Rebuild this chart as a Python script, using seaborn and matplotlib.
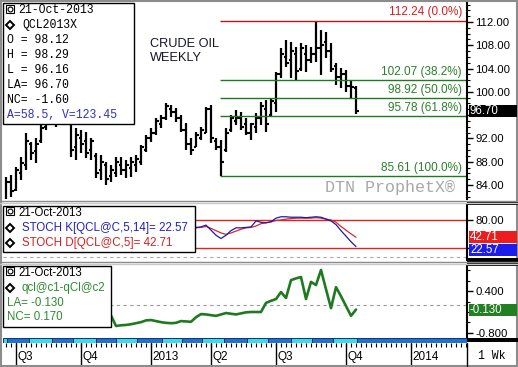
import numpy as np
import pandas as pd
import matplotlib
matplotlib.use("Agg")
import matplotlib.pyplot as plt
import seaborn as sns
from matplotlib.patches import Rectangle
from matplotlib.ticker import MultipleLocator, FixedLocator

# weekly bars of QCL2013X, first bar week of 18-Jun-2012
start = pd.Timestamp("2012-06-18")
opens = [81.5, 84.5, 83.2, 86.0, 87.5, 91.0, 89.8, 91.5, 94.0, 95.5,
         96.0, 95.2, 96.5, 94.5, 90.5, 92.0, 91.5, 90.0, 89.0, 86.5,
         87.5, 85.5, 86.0, 87.5, 86.5, 87.0, 87.5, 88.0, 90.0, 92.0,
         93.0, 94.5, 95.5, 97.0, 96.5, 95.5, 93.5, 91.0, 90.5, 92.0,
         93.0, 97.0, 91.5, 90.5, 90.0, 93.5, 95.0, 95.5, 94.5, 93.0,
         94.0, 95.5, 97.0, 96.0, 98.0, 103.0, 106.0, 105.5, 106.5, 104.0,
         106.5, 105.5, 106.5, 107.5, 108.5, 107.0, 104.5, 102.5, 103.0, 101.0,
         100.6]
highs = [85.4, 85.7, 87.1, 88.8, 92.9, 91.4, 92.0, 94.3, 96.0, 97.5,
         97.0, 98.0, 97.0, 95.5, 93.8, 93.4, 93.1, 92.1, 89.5, 89.1,
         87.9, 87.4, 88.8, 88.8, 88.3, 88.8, 89.1, 90.9, 92.6, 93.8,
         95.5, 96.0, 98.1, 97.7, 97.2, 96.0, 94.6, 92.1, 93.1, 94.0,
         97.4, 97.7, 92.0, 91.8, 93.8, 96.0, 96.9, 96.5, 95.5, 94.6,
         96.4, 98.3, 98.6, 99.0, 103.4, 107.5, 108.9, 108.6, 107.7, 108.4,
         108.0, 107.7, 112.24, 110.6, 110.3, 108.4, 105.0, 104.1, 103.8, 102.0,
         101.0]
lows = [80.5, 82.0, 83.0, 84.9, 86.6, 88.3, 87.8, 91.2, 93.4, 94.5,
        94.0, 95.0, 94.6, 88.8, 88.3, 89.5, 88.6, 88.3, 85.2, 84.9,
        84.0, 84.5, 85.4, 85.7, 85.2, 85.4, 86.2, 87.4, 89.7, 91.4,
        92.6, 93.8, 95.2, 95.6, 94.8, 93.1, 90.0, 89.1, 90.5, 91.7,
        92.9, 91.2, 90.0, 85.61, 89.7, 93.1, 94.3, 93.4, 92.6, 91.7,
        92.9, 94.3, 93.1, 95.8, 96.5, 102.4, 104.3, 102.4, 102.0, 103.5,
        103.4, 105.0, 105.1, 102.9, 105.8, 103.4, 101.2, 100.7, 100.0, 99.0,
        96.16]
closes = [84.5, 83.0, 86.5, 87.8, 91.5, 89.5, 91.0, 93.8, 95.5, 96.5,
          95.0, 96.8, 95.0, 90.0, 92.5, 91.0, 89.5, 91.5, 86.0, 88.0,
          85.0, 86.5, 88.0, 86.5, 87.5, 88.0, 88.5, 90.5, 92.0, 93.0,
          95.0, 95.5, 97.5, 96.5, 95.5, 93.5, 91.0, 90.0, 92.5, 93.5,
          97.0, 92.0, 90.5, 88.0, 93.0, 95.5, 95.5, 94.0, 93.0, 94.5,
          95.5, 97.5, 94.5, 98.5, 103.0, 106.5, 105.0, 107.0, 103.5, 107.5,
          105.5, 106.5, 107.5, 108.0, 107.0, 104.0, 102.5, 103.0, 101.0, 100.8,
          96.70]

# stochastics, visible part only (from week 37)
stoch_first = 37
stoch_k = [63, 64, 65, 69, 58, 47, 40, 47, 57, 63, 63, 64, 65, 78, 75, 74, 76,
           84, 87, 87, 86, 86, 86, 85, 86, 87, 86, 82, 78, 70, 57, 45, 33, 22.57]
stoch_d = [63, 63, 64, 66, 62, 57, 52, 49, 52, 56, 60, 63, 64, 67, 72, 74, 76,
           79, 80, 82, 83, 84, 84, 84, 84, 85, 84, 82, 80, 75, 66, 58, 50, 42.71]

# spread qcl@c1-qCl@c2, visible part only (from week 21)
spread_first = 21
spread = [-0.30, -0.60, -0.58, -0.57, -0.55, -0.52, -0.49, -0.44, -0.43, -0.46,
          -0.49, -0.51, -0.52, -0.51, -0.46, -0.47, -0.48, -0.35, -0.26, -0.27,
          -0.29, -0.31, -0.27, -0.23, -0.25, -0.27, -0.24, -0.21, -0.20, -0.20,
          -0.20, 0.06, 0.12, 0.17, 0.37, 0.20, 0.71, 0.76, 0.80, 0.17,
          0.66, 0.57, 1.00, 0.45, -0.09, 0.51, 0.25, -0.03, -0.31, -0.13]

fib_levels = [112.24, 102.07, 98.92, 95.78, 85.61]
fib_labels = ["112.24 (0.0%)", "102.07 (38.2%)", "98.92 (50.0%)",
              "95.78 (61.8%)", "85.61 (100.0%)"]
fib_from = 43  # week of the 85.61 low

roll_dates = ["2012-06-20", "2012-07-20", "2012-08-21", "2012-09-20", "2012-10-22",
              "2012-11-19", "2012-12-19", "2013-01-22", "2013-02-20", "2013-03-20",
              "2013-04-19", "2013-05-21", "2013-06-20", "2013-07-22", "2013-08-20",
              "2013-09-19", "2013-10-22"]
quarter_labels = ["Q3", "Q4", "2013", "Q2", "Q3", "Q4", "2014"]
quarter_starts = ["2012-07-01", "2012-10-01", "2013-01-01", "2013-04-01",
                  "2013-07-01", "2013-10-01", "2014-01-01"]

legend_main = ["O = 98.12", "H = 98.29", "L = 96.16", "LA= 96.70", "NC= -1.60"]

price_ticks = np.arange(84, 113, 4)
stoch_ticks = [20, 80]
spread_ticks = [-0.8, 0.4]

RED = "#d42020"
GREEN = "#2a7f2a"
BLUE = "#2222b8"
MONO = ["Liberation Mono", "DejaVu Sans Mono"]

sns.set_theme(style="white")
plt.rcParams['font.family'] = ['Liberation Sans', 'DejaVu Sans']

W, H = 518, 367
fig = plt.figure(figsize=(W / 100, H / 100), dpi=100)


def px_axes(l, t, r, b):
    return fig.add_axes([l / W, 1 - b / H, (r - l) / W, (b - t) / H])


def week_pos(d):
    return (pd.Timestamp(d) - start).days / 7


def right_labels(a, ticks, fmt, covered, span):
    # tick labels hidden under a value tag are left blank
    a.yaxis.set_major_locator(FixedLocator(ticks))
    a.set_yticklabels([("" if min(abs(t - c) for c in covered) < span else fmt.format(t))
                       for t in ticks])


n = len(closes)
x = np.arange(n)
xlim = (-0.6, 92.2)

# ---------------- price panel
ax = px_axes(3, 3, 467, 199)
ax.vlines(x, lows, highs, color="black", lw=1.6)
ax.hlines(opens, x - 0.5, x, color="black", lw=1.5)
ax.hlines(closes, x, x + 0.5, color="black", lw=1.5)
ax.hlines(fib_levels, fib_from - 0.3, xlim[1],
          colors=["#cc1111"] + ["#1f7a1f"] * 4, lw=1)
for lev, lab in zip(fib_levels, fib_labels):
    ax.annotate(lab, xy=(0.989, lev), xycoords=("axes fraction", "data"),
                xytext=(0, 1.5), textcoords="offset points", ha="right",
                va="bottom", fontsize=8.5,
                color=RED if lev == max(fib_levels) else GREEN)
ax.set_xlim(*xlim)
ax.set_ylim(81.59, 115.26)
ax.text(0.317, 0.82, "CRUDE OIL\nWEEKLY", transform=ax.transAxes, fontsize=9.2,
        va="top", ha="left", color="#15152a", linespacing=1.2)
ax.text(0.974, 0.036, "DTN ProphetX\u00ae", transform=ax.transAxes, fontsize=12,
        family=MONO, color="#a8a8a8", ha="right", va="baseline")
ax.yaxis.tick_right()
right_labels(ax, price_ticks, "{:.2f}", [closes[-1]], 1.5)
ax.yaxis.set_minor_locator(MultipleLocator(1))

# ---------------- stochastics panel
ax_s = px_axes(3, 204, 467, 260)
xs = np.arange(stoch_first, stoch_first + len(stoch_k))
ax_s.axhline(80, color="#dd2222", lw=1)
ax_s.axhline(20, color="#dd2222", lw=1)
ax_s.axhline(0, color="#aaaaaa", lw=0.8, ls=(0, (3, 3)))
sns.lineplot(x=xs, y=stoch_d, ax=ax_s, color="#d42a2a", lw=0.9, legend=False)
sns.lineplot(x=xs, y=stoch_k, ax=ax_s, color="#1c1ca8", lw=0.9, legend=False)
ax_s.set_xlim(*xlim)
ax_s.set_ylim(-6.5, 114.6)
ax_s.yaxis.tick_right()
right_labels(ax_s, stoch_ticks, "{:.2f}", [stoch_k[-1], stoch_d[-1]], 12)

# ---------------- spread panel
ax_p = px_axes(3, 265, 467, 338)
xp = np.arange(spread_first, spread_first + len(spread))
ax_p.axhline(0, color="#999999", lw=0.8, ls=(0, (3, 3)))
sns.lineplot(x=xp, y=spread, ax=ax_p, color="#1f7a1f", lw=1.9, legend=False)
ax_p.set_xlim(*xlim)
ax_p.set_ylim(-0.943, 1.143)
ax_p.yaxis.tick_right()
right_labels(ax_p, spread_ticks, "{:.3f}", [spread[-1]], 0.2)
ax_p.yaxis.set_minor_locator(FixedLocator(np.arange(-0.8, 1.1, 0.3)))

for a in (ax, ax_s, ax_p):
    a.set_xticks([])
    for side in ("left", "top", "bottom"):
        a.spines[side].set_visible(False)
    a.spines["right"].set_color("black")
    a.spines["right"].set_linewidth(1.5)
    a.tick_params(axis="y", which="major", direction="out", length=4, width=1,
                  colors="black", labelsize=8.2, pad=2, right=True, left=False)
    a.tick_params(axis="y", which="minor", direction="out", length=2, width=0.8,
                  color="black", right=True, left=False)
    a.set_xlabel("")
    a.set_ylabel("")

# ---------------- contract strip
ax_r = px_axes(3, 338, 467, 343)
rolls = [week_pos(d) for d in roll_dates]
for k in range(len(rolls) - 1):
    col = "#38dcec" if (len(rolls) - 2 - k) % 2 == 0 else "#1d72d4"
    ax_r.add_patch(Rectangle((rolls[k], 0), rolls[k + 1] - rolls[k], 1,
                             fc=col, ec="#14306a", lw=0.7))
ax_r.add_patch(Rectangle((xlim[0], 0), rolls[0] - xlim[0], 1, fc="#38dcec",
                         ec="#14306a", lw=0.7))
ax_r.add_patch(Rectangle((rolls[-1], 0), xlim[1] - rolls[-1], 1, fc="#1d72d4",
                         ec="#14306a", lw=0.7))
ax_r.set_xlim(*xlim)
ax_r.set_ylim(0, 1)
ax_r.axis("off")

# ---------------- date axis
ax_d = px_axes(3, 343, 467, 366)
all_weeks = pd.date_range(start, "2014-03-31", freq="7D")
week_idx = np.array([week_pos(d) for d in all_weeks])
ax_d.vlines(week_idx, 0.82, 1.0, transform=ax_d.get_xaxis_transform(),
            color="black", lw=0.8)
for lab, qs in zip(quarter_labels, quarter_starts):
    first = all_weeks[all_weeks >= pd.Timestamp(qs)][0]
    qx = week_pos(first)
    ax_d.axvline(qx, color="black", lw=1)
    ax_d.text(qx + 0.3, 0.38, lab, transform=ax_d.get_xaxis_transform(),
              fontsize=8.5, ha="left", va="center", color="black")
ax_d.set_xlim(*xlim)
ax_d.set_ylim(0, 1)
ax_d.set_xticks([])
ax_d.set_yticks([])
for s in ax_d.spines.values():
    s.set_visible(False)

# ---------------- overlay: frames, legend boxes, value tags
ov = fig.add_axes([0, 0, 1, 1], zorder=10)
ov.set_xlim(0, W)
ov.set_ylim(H, 0)
ov.axis("off")
ov.patch.set_visible(False)

ov.add_patch(Rectangle((0.75, 0.75), W - 1.5, H - 1.5, fill=False,
                       ec="#8c8c8c", lw=1.5))
for yy, cc in [(200.5, "#8a8a8a"), (202.5, "#c8c8c8"), (261.5, "#8a8a8a"),
               (263.5, "#c8c8c8")]:
    ov.plot([0, W], [yy, yy], color=cc, lw=1)
for top, hgt in [(201, 3.5), (257.5, 4.5), (262.5, 3), (337.5, 4)]:
    ov.add_patch(Rectangle((467, top), W - 467, hgt, fc="black", ec="none"))
ov.plot([467, 467], [343, 366], color="black", lw=1)
ov.text(492, 356, "1 Wk", fontsize=8.3, family=MONO, ha="center",
        va="center", color="black")


def tag(axis, value, text, color, below=None):
    yy = H - axis.transData.transform((0, value))[1]
    if below is not None:
        yy = max(yy, below + 12.5)
    ov.add_patch(Rectangle((468.5, yy - 6), W - 470, 12, fc=color, ec="none"))
    ov.text(470, yy, text, fontsize=8.3, color="white", ha="left", va="center")
    return yy


tag(ax, closes[-1], f"{closes[-1]:.2f}", "black")
yd = tag(ax_s, stoch_d[-1], f"{stoch_d[-1]:.2f}", "#ee1c1c")
tag(ax_s, stoch_k[-1], f"{stoch_k[-1]:.2f}", "#1c1ced", below=yd)
tag(ax_p, spread[-1], f"{spread[-1]:.3f}", "#228022")


def icon(x0, y0):
    ov.add_patch(Rectangle((x0, y0), 8, 8, fill=False, ec="black", lw=0.8))
    ov.plot(x0 + 4, y0 + 4, marker="o", ms=3.5, mfc="none", mec="black", mew=0.8)


def diamond(x0, y0):
    ov.plot(x0, y0, marker="D", ms=4.3, mfc="white", mec="black", mew=1.4)


# main legend
ov.add_patch(Rectangle((3, 3), 131, 121, fc="white", ec="black", lw=1))
icon(6, 5)
ov.text(18, 10, "21-Oct-2013", fontsize=8.3, family=MONO, va="center", color="black")
diamond(10, 25)
ov.text(22, 25, "QCL2013X", fontsize=8.3, family=MONO, va="center", color="black")
for k, line in enumerate(legend_main):
    ov.text(7, 40 + 15 * k, line, fontsize=8.3, family=MONO, va="center",
            color="black")
ov.text(7, 115, "A=58.5, V=123.45", fontsize=8.3, family=MONO, va="center",
        color="#3030c0")

# stochastics legend
ov.add_patch(Rectangle((3, 206), 192, 46, fc="white", ec="black", lw=1))
icon(6, 207)
ov.text(18, 213, "21-Oct-2013", fontsize=8.3, va="center", color="black")
diamond(10, 228)
ov.text(22, 228, f"STOCH K[QCL@C,5,14]= {stoch_k[-1]:.2f}", fontsize=8.3,
        va="center", color=BLUE)
diamond(10, 243)
ov.text(22, 243, f"STOCH D[QCL@C,5]= {stoch_d[-1]:.2f}", fontsize=8.3,
        va="center", color=RED)

# spread legend
ov.add_patch(Rectangle((3, 266), 108, 61, fc="white", ec="black", lw=1))
icon(6, 267)
ov.text(18, 273, "21-Oct-2013", fontsize=8.3, va="center", color="black")
diamond(10, 288)
ov.text(22, 288, "qcl@c1-qCl@c2", fontsize=8.3, va="center", color="#2e8b2e")
ov.text(7, 303, f"LA= {spread[-1]:.3f}", fontsize=8.3, va="center", color="#2e8b2e")
ov.text(7, 317, "NC= 0.170", fontsize=8.3, va="center", color="#2e8b2e")

fig.savefig("out.png", dpi=100)
